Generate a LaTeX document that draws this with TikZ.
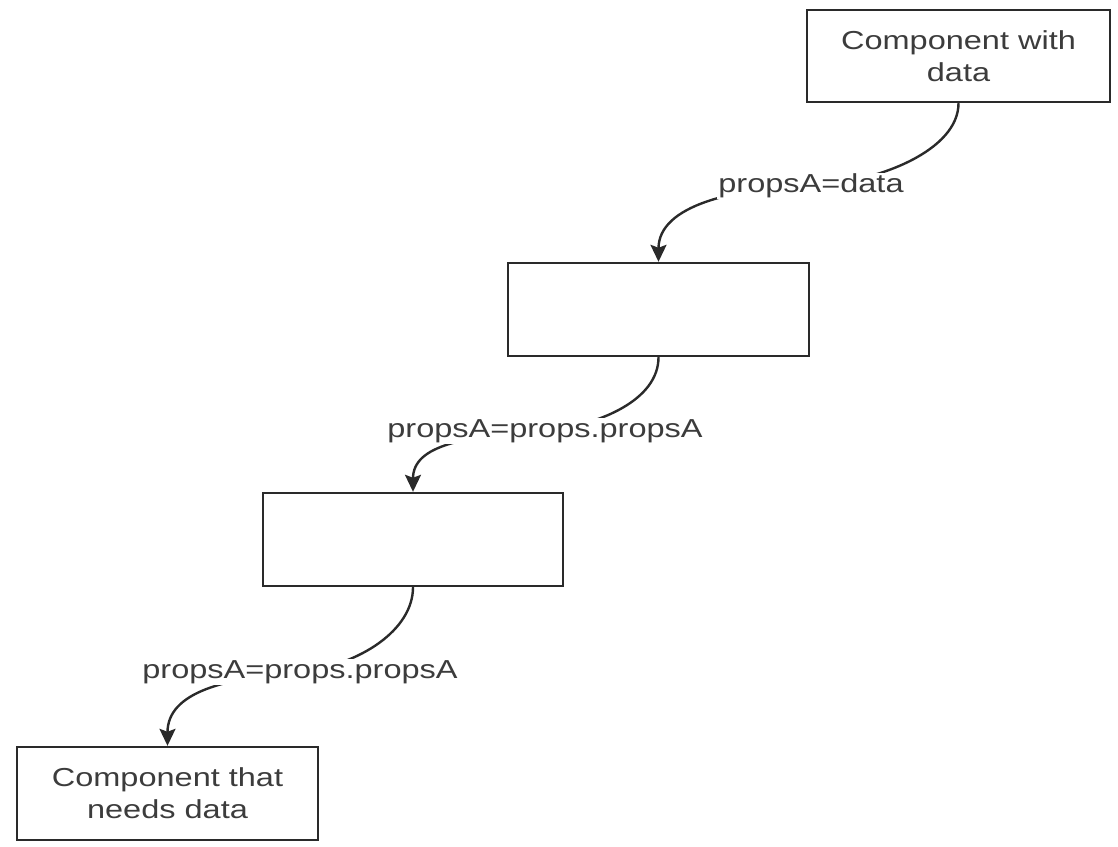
\documentclass[tikz,border=0pt]{standalone}
\usepackage{fontspec}
\setmainfont[FakeStretch=1.25]{Liberation Sans}
\usetikzlibrary{arrows.meta,backgrounds}
\definecolor{ink}{HTML}{2A2A2A}
\definecolor{txt}{HTML}{3C3C3C}
\tikzset{
  compbox/.style={draw=ink, line width=2.4pt, fill=white, rectangle, inner sep=0pt,
    minimum width=301pt, minimum height=93pt, align=center, text=txt,
    font=\fontsize{26}{32}\selectfont},
  proplabel/.style={fill=white, inner sep=1pt, text=txt, font=\fontsize{26}{30}\selectfont},
  conn/.style={draw=ink, line width=2.4pt, -{Stealth[length=17pt,width=16pt,inset=3pt]}}
}
\begin{document}
\begin{tikzpicture}[x=1pt,y=-1pt]
\useasboundingbox (0,0) rectangle (1118,846);
\node[compbox, minimum width=303pt, minimum height=92pt] (b1) at (958.5,56) {Component with\\data};
\node[compbox] (b2) at (658.5,309.5) {};
\node[compbox, minimum width=300pt] (b3) at (413,539.5) {};
\node[compbox] (b4) at (167.5,793.5) {Component that\\needs data};
\node[proplabel] (l1) at (811,186) {propsA=data};
\node[proplabel] (l2) at (545,431) {propsA=props.propsA};
\node[proplabel] (l3) at (300,672) {propsA=props.propsA};
\begin{pgfonlayer}{background}
\draw[conn] (b1.south) .. controls (958.5,150) and (880,182) .. (l1.center)
  .. controls (735,188) and (658.5,205) .. (b2.north);
\draw[conn] (b2.south) .. controls (658.5,400) and (600,425) .. (l2.center)
  .. controls (465,436) and (413,445) .. (b3.north);
\draw[conn] (b3.south) .. controls (413,630) and (360,665) .. (l3.center)
  .. controls (225,678) and (167.5,692) .. (b4.north);
\end{pgfonlayer}
\end{tikzpicture}
\end{document}
